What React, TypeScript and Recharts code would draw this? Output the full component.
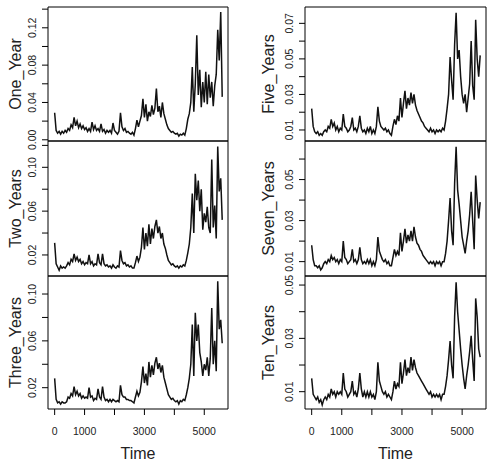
import React from "react";
import { LineChart, Line, XAxis, YAxis, ReferenceArea } from "recharts";

// time index of the series (every 50th observation)
const TIME = Array.from({ length: 113 }, (_, i) => i * 50);

const ONE_YEAR = [
  0.029, 0.010, 0.007, 0.009, 0.006, 0.009, 0.007, 0.010, 0.008, 0.012,
  0.010, 0.016, 0.013, 0.024, 0.015, 0.020, 0.013, 0.017, 0.012, 0.015,
  0.011, 0.013, 0.009, 0.012, 0.009, 0.019, 0.011, 0.015, 0.010, 0.012,
  0.009, 0.017, 0.009, 0.011, 0.007, 0.010, 0.008, 0.010, 0.007, 0.018,
  0.010, 0.008, 0.006, 0.009, 0.029, 0.014, 0.010, 0.012, 0.008, 0.009,
  0.007, 0.006, 0.008, 0.005, 0.012, 0.021, 0.014, 0.020, 0.026, 0.044,
  0.024, 0.038, 0.020, 0.030, 0.025, 0.037, 0.027, 0.034, 0.055, 0.030,
  0.036, 0.024, 0.040, 0.028, 0.022, 0.016, 0.012, 0.010, 0.008, 0.009,
  0.007, 0.006, 0.007, 0.004, 0.006, 0.005, 0.007, 0.005, 0.012, 0.022,
  0.028, 0.040, 0.078, 0.030, 0.060, 0.112, 0.048, 0.075, 0.035, 0.062,
  0.040, 0.073, 0.038, 0.070, 0.045, 0.062, 0.036, 0.058, 0.070, 0.118,
  0.085, 0.137, 0.046,
];

const TWO_YEARS = [
  0.031, 0.012, 0.009, 0.006, 0.010, 0.008, 0.009, 0.008, 0.010, 0.013,
  0.011, 0.016, 0.014, 0.021, 0.015, 0.018, 0.014, 0.016, 0.012, 0.014,
  0.011, 0.013, 0.012, 0.020, 0.012, 0.014, 0.010, 0.012, 0.011, 0.021,
  0.013, 0.011, 0.021, 0.012, 0.010, 0.011, 0.009, 0.010, 0.008, 0.011,
  0.009, 0.008, 0.010, 0.009, 0.024, 0.015, 0.012, 0.013, 0.010, 0.011,
  0.009, 0.010, 0.008, 0.008, 0.013, 0.019, 0.014, 0.018, 0.027, 0.045,
  0.025, 0.040, 0.028, 0.048, 0.030, 0.044, 0.035, 0.046, 0.052, 0.040,
  0.046, 0.035, 0.040, 0.030, 0.026, 0.020, 0.015, 0.013, 0.011, 0.012,
  0.010, 0.009, 0.010, 0.008, 0.010, 0.009, 0.011, 0.010, 0.015, 0.022,
  0.030, 0.045, 0.076, 0.040, 0.094, 0.070, 0.088, 0.060, 0.080, 0.043,
  0.058, 0.050, 0.064, 0.045, 0.040, 0.107, 0.045, 0.065, 0.035, 0.119,
  0.078, 0.090, 0.052,
];

const THREE_YEARS = [
  0.028, 0.010, 0.007, 0.008, 0.006, 0.008, 0.007, 0.007, 0.008, 0.012,
  0.011, 0.015, 0.013, 0.021, 0.014, 0.017, 0.013, 0.015, 0.011, 0.013,
  0.011, 0.012, 0.011, 0.020, 0.012, 0.013, 0.009, 0.011, 0.010, 0.019,
  0.012, 0.010, 0.021, 0.012, 0.009, 0.010, 0.008, 0.010, 0.008, 0.010,
  0.009, 0.008, 0.009, 0.008, 0.022, 0.014, 0.012, 0.012, 0.010, 0.010,
  0.009, 0.009, 0.008, 0.007, 0.012, 0.017, 0.013, 0.016, 0.025, 0.038,
  0.024, 0.032, 0.022, 0.042, 0.029, 0.039, 0.031, 0.041, 0.046, 0.036,
  0.041, 0.033, 0.039, 0.029, 0.024, 0.019, 0.014, 0.012, 0.010, 0.011,
  0.009, 0.008, 0.009, 0.006, 0.009, 0.008, 0.010, 0.009, 0.014, 0.020,
  0.028, 0.040, 0.074, 0.030, 0.084, 0.060, 0.074, 0.050, 0.042, 0.030,
  0.040, 0.035, 0.046, 0.030, 0.045, 0.088, 0.040, 0.060, 0.034, 0.111,
  0.070, 0.078, 0.058,
];

const FIVE_YEARS = [
  0.022, 0.012, 0.009, 0.008, 0.009, 0.007, 0.008, 0.007, 0.009, 0.010,
  0.009, 0.012, 0.011, 0.016, 0.012, 0.014, 0.010, 0.012, 0.009, 0.011,
  0.010, 0.019, 0.012, 0.011, 0.009, 0.010, 0.012, 0.017, 0.010, 0.011,
  0.009, 0.012, 0.018, 0.011, 0.009, 0.010, 0.008, 0.011, 0.009, 0.012,
  0.008, 0.010, 0.008, 0.012, 0.023, 0.015, 0.012, 0.011, 0.010, 0.011,
  0.009, 0.010, 0.008, 0.007, 0.012, 0.016, 0.013, 0.018, 0.015, 0.028,
  0.017, 0.025, 0.032, 0.022, 0.028, 0.024, 0.031, 0.025, 0.030, 0.024,
  0.021, 0.019, 0.017, 0.015, 0.014, 0.012, 0.011, 0.010, 0.009, 0.011,
  0.009, 0.010, 0.008, 0.010, 0.009, 0.010, 0.009, 0.011, 0.010, 0.015,
  0.022, 0.030, 0.051, 0.038, 0.027, 0.058, 0.076, 0.050, 0.055, 0.040,
  0.030, 0.025, 0.030, 0.020, 0.028, 0.036, 0.060, 0.035, 0.027, 0.072,
  0.050, 0.040, 0.052,
];

const SEVEN_YEARS = [
  0.018, 0.011, 0.008, 0.008, 0.007, 0.008, 0.006, 0.007, 0.009, 0.010,
  0.009, 0.011, 0.010, 0.013, 0.011, 0.012, 0.010, 0.011, 0.009, 0.011,
  0.010, 0.020, 0.012, 0.011, 0.009, 0.010, 0.011, 0.016, 0.010, 0.011,
  0.009, 0.011, 0.017, 0.011, 0.009, 0.010, 0.009, 0.011, 0.009, 0.011,
  0.008, 0.010, 0.008, 0.011, 0.022, 0.015, 0.013, 0.011, 0.010, 0.011,
  0.009, 0.010, 0.008, 0.008, 0.012, 0.016, 0.013, 0.015, 0.013, 0.024,
  0.015, 0.020, 0.026, 0.019, 0.023, 0.020, 0.025, 0.020, 0.027, 0.022,
  0.019, 0.018, 0.016, 0.015, 0.013, 0.012, 0.011, 0.010, 0.009, 0.010,
  0.009, 0.010, 0.008, 0.010, 0.009, 0.010, 0.008, 0.010, 0.010, 0.014,
  0.020, 0.030, 0.041, 0.025, 0.018, 0.048, 0.066, 0.045, 0.038, 0.030,
  0.022, 0.018, 0.014, 0.020, 0.025, 0.033, 0.044, 0.030, 0.016, 0.052,
  0.040, 0.031, 0.039,
];

const TEN_YEARS = [
  0.015, 0.009, 0.008, 0.007, 0.008, 0.006, 0.007, 0.005, 0.007, 0.008,
  0.007, 0.009, 0.008, 0.011, 0.009, 0.010, 0.008, 0.010, 0.009, 0.010,
  0.009, 0.017, 0.011, 0.010, 0.008, 0.009, 0.010, 0.014, 0.009, 0.010,
  0.008, 0.011, 0.017, 0.011, 0.008, 0.010, 0.008, 0.010, 0.008, 0.010,
  0.008, 0.009, 0.007, 0.010, 0.021, 0.014, 0.012, 0.010, 0.009, 0.010,
  0.008, 0.009, 0.008, 0.007, 0.010, 0.014, 0.011, 0.013, 0.012, 0.021,
  0.013, 0.017, 0.022, 0.016, 0.019, 0.017, 0.023, 0.018, 0.022, 0.019,
  0.017, 0.016, 0.015, 0.014, 0.013, 0.012, 0.011, 0.010, 0.009, 0.010,
  0.008, 0.009, 0.008, 0.009, 0.008, 0.009, 0.007, 0.009, 0.009, 0.012,
  0.016, 0.022, 0.029, 0.020, 0.015, 0.038, 0.051, 0.040, 0.033, 0.026,
  0.020, 0.015, 0.011, 0.016, 0.020, 0.025, 0.031, 0.022, 0.014, 0.045,
  0.038, 0.026, 0.023,
];

const X_DOMAIN = [-222, 5793];
const X_TICKS = [0, 1000, 2000, 3000, 4000, 5000];
const X_LABELS = [0, 1000, 3000, 5000];

const FONT = "'Liberation Sans', Arial, Helvetica, sans-serif";
const INK = "#222";

interface PanelProps {
  name: string;
  values: number[];
  domain: number[];
  ticks: number[];
  labels: number[];
  left: number;
  top: number;
  width: number;
  height: number;
  showX?: boolean;
}

const PAD = 12;
const AXIS_W = 48;

const Panel: React.FC<PanelProps> = ({
  values,
  domain,
  ticks,
  labels,
  left,
  top,
  width,
  height,
  showX,
}) => {
  const data = TIME.map((t, i) => ({ t, v: values[i] }));
  const bottom = showX ? 50 : PAD;
  const yTick = (p: any) => {
    const val = p.payload.value;
    const show = labels.some((l) => Math.abs(l - val) < 1e-9);
    if (!show) return <g />;
    return (
      <text
        x={p.x}
        y={p.y}
        transform={`rotate(-90 ${p.x} ${p.y})`}
        textAnchor="middle"
        dominantBaseline="central"
        fontSize={10.5}
        fontFamily={FONT}
        fill={INK}
      >
        {val.toFixed(2)}
      </text>
    );
  };
  const xTick = (p: any) => {
    const val = p.payload.value;
    if (!X_LABELS.includes(val)) return <g />;
    return (
      <text
        x={p.x}
        y={p.y + 8}
        textAnchor="middle"
        fontSize={10.5}
        fontFamily={FONT}
        fill={INK}
      >
        {val}
      </text>
    );
  };
  return (
    <div style={{ position: "absolute", left: left - AXIS_W, top: top - PAD }}>
      <LineChart
        width={AXIS_W + width + 4}
        height={PAD + height + bottom}
        data={data}
        margin={{ top: PAD, right: 4, bottom: showX ? 0 : PAD, left: 0 }}
      >
        <XAxis
          dataKey="t"
          type="number"
          domain={X_DOMAIN}
          allowDataOverflow
          ticks={X_TICKS}
          interval={0}
          hide={!showX}
          height={50}
          axisLine={false}
          tickLine={{ stroke: "#000" }}
          tickSize={6}
          tickMargin={12}
          tick={xTick}
        />
        <YAxis
          type="number"
          domain={domain}
          allowDataOverflow
          ticks={ticks}
          interval={0}
          width={AXIS_W}
          axisLine={false}
          tickLine={{ stroke: "#000" }}
          tickSize={6}
          tickMargin={10}
          tick={yTick}
        />
        <ReferenceArea
          x1={X_DOMAIN[0]}
          x2={X_DOMAIN[1]}
          y1={domain[0]}
          y2={domain[1]}
          fill="none"
          stroke="#000"
          strokeWidth={1}
          ifOverflow="visible"
        />
        <Line
          type="linear"
          dataKey="v"
          stroke="#111"
          strokeWidth={1.5}
          dot={false}
          isAnimationActive={false}
        />
      </LineChart>
    </div>
  );
};

const ROWS = [
  { top: 7, height: 134 },
  { top: 141, height: 135 },
  { top: 276, height: 133 },
];
const COLS = [
  { left: 48, width: 180, titleX: 15 },
  { left: 305, width: 181, titleX: 268 },
];

const PANELS = [
  { name: "One_Year", values: ONE_YEAR, domain: [-0.0013, 0.1423], ticks: [0, 0.02, 0.04, 0.06, 0.08, 0.1, 0.12, 0.14], labels: [0, 0.04, 0.08, 0.12], col: 0, row: 0 },
  { name: "Two_Years", values: TWO_YEARS, domain: [0.0008, 0.124], ticks: [0.02, 0.04, 0.06, 0.08, 0.1, 0.12], labels: [0.02, 0.06, 0.1], col: 0, row: 1 },
  { name: "Three_Years", values: THREE_YEARS, domain: [0.0018, 0.1154], ticks: [0.02, 0.04, 0.06, 0.08, 0.1], labels: [0.02, 0.06, 0.1], col: 0, row: 2 },
  { name: "Five_Years", values: FIVE_YEARS, domain: [0.0038, 0.0792], ticks: [0.01, 0.02, 0.03, 0.04, 0.05, 0.06, 0.07], labels: [0.01, 0.03, 0.05, 0.07], col: 1, row: 0 },
  { name: "Seven_Years", values: SEVEN_YEARS, domain: [0.003, 0.0688], ticks: [0.01, 0.02, 0.03, 0.04, 0.05, 0.06], labels: [0.01, 0.03, 0.05], col: 1, row: 1 },
  { name: "Ten_Years", values: TEN_YEARS, domain: [0.0035, 0.0534], ticks: [0.01, 0.02, 0.03, 0.04, 0.05], labels: [0.01, 0.03, 0.05], col: 1, row: 2 },
];

export default function App() {
  return (
    <div
      style={{
        position: "absolute",
        left: 0,
        top: 0,
        width: 487,
        height: 461,
        background: "#fff",
        overflow: "hidden",
      }}
    >
      {PANELS.map((p) => (
        <Panel
          key={p.name}
          name={p.name}
          values={p.values}
          domain={p.domain}
          ticks={p.ticks}
          labels={p.labels}
          left={COLS[p.col].left}
          width={COLS[p.col].width}
          top={ROWS[p.row].top}
          height={ROWS[p.row].height}
          showX={p.row === 2}
        />
      ))}
      <svg
        width={487}
        height={461}
        style={{ position: "absolute", left: 0, top: 0, pointerEvents: "none" }}
      >
        {PANELS.map((p) => {
          const x = COLS[p.col].titleX;
          const y = ROWS[p.row].top + ROWS[p.row].height / 2;
          return (
            <text
              key={p.name}
              x={x}
              y={y}
              transform={`rotate(-90 ${x} ${y})`}
              textAnchor="middle"
              dominantBaseline="central"
              fontSize={16}
              fontFamily={FONT}
              fill={INK}
            >
              {p.name}
            </text>
          );
        })}
        {COLS.map((c, i) => (
          <text
            key={i}
            x={c.left + c.width / 2}
            y={459}
            textAnchor="middle"
            fontSize={16}
            fontFamily={FONT}
            fill={INK}
          >
            Time
          </text>
        ))}
      </svg>
    </div>
  );
}
